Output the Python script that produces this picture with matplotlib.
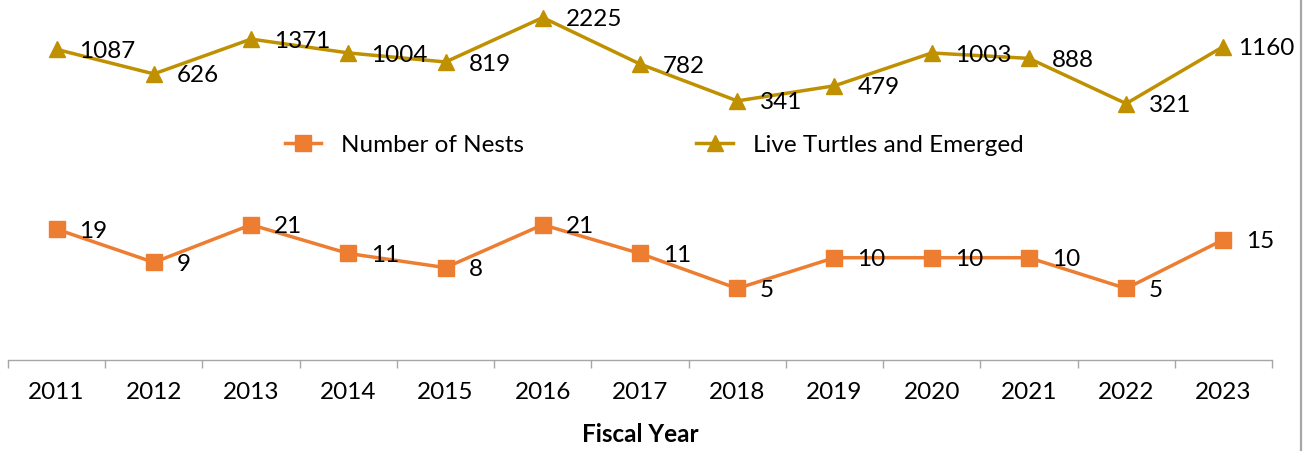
import matplotlib
matplotlib.use("Agg")
import matplotlib.pyplot as plt
from matplotlib.lines import Line2D
import numpy as np

years = ["2011", "2012", "2013", "2014", "2015", "2016", "2017",
         "2018", "2019", "2020", "2021", "2022", "2023"]
nests = [19, 9, 21, 11, 8, 21, 11, 5, 10, 10, 10, 5, 15]
turtles = [1087, 626, 1371, 1004, 819, 2225, 782, 341, 479, 1003, 888, 321, 1160]

NEST_COLOR = "#ED7D31"
TURTLE_COLOR = "#BF9000"
AXIS_GRAY = "#A6A6A6"
FONT = "Lato"

W, H, DPI = 1310, 451, 100
fig = plt.figure(figsize=(W / DPI, H / DPI), dpi=DPI)
plt.rcParams["font.family"] = [FONT, "DejaVu Sans"]

# plot area in pixels: x 8..1272, y 0..360 (from top)
left_px, right_px, top_px, bottom_px = 8, 1272, 0, 360
ax = fig.add_axes([left_px / W, 1 - bottom_px / H,
                   (right_px - left_px) / W, (bottom_px - top_px) / H])

x = np.arange(len(years))
ax.set_yscale("log")
ax.set_ylim(1, 10 ** (360 / 102.3))
ax.set_xlim(-0.5, len(years) - 0.5)

l1, = ax.plot(x, nests, color=NEST_COLOR, lw=2.5, marker="s", ms=11.5,
              mfc=NEST_COLOR, mec=NEST_COLOR, label="Number of Nests",
              clip_on=False, zorder=3)
l2, = ax.plot(x, turtles, color=TURTLE_COLOR, lw=2.5, marker="^", ms=12,
              mfc=TURTLE_COLOR, mec=TURTLE_COLOR,
              label="Live Turtles and Emerged", clip_on=False, zorder=3)

fs = 17.5
for series in (nests, turtles):
    for i, v in enumerate(series):
        dx = 16.5
        if series is turtles and i == len(series) - 1:
            dx = 10.5
        ax.annotate(str(v), (x[i], v), xytext=(dx, -1.5),
                    textcoords="offset points", ha="left", va="center",
                    fontsize=fs, color="black", family=FONT)

# axes styling: only the bottom category axis
for side in ("left", "right", "top"):
    ax.spines[side].set_visible(False)
ax.spines["bottom"].set_color(AXIS_GRAY)
ax.spines["bottom"].set_linewidth(1.0)
ax.set_yticks([])
ax.yaxis.set_minor_locator(matplotlib.ticker.NullLocator())
ax.set_xticks(x)
ax.set_xticklabels(years, fontsize=fs, family=FONT)
ax.tick_params(axis="x", which="major", length=0, pad=16)
ax.set_xticks(np.arange(-0.5, len(years)), minor=True)
ax.tick_params(axis="x", which="minor", length=6, width=1.0,
               color=AXIS_GRAY)

ax.set_xlabel("Fiscal Year", fontsize=fs, fontweight="bold", family=FONT,
              va="center")
ax.xaxis.set_label_coords(0.5, (bottom_px - 435) / (bottom_px - top_px))

ax.legend(handles=[l1, l2], loc="center", ncol=2, frameon=False,
          bbox_to_anchor=((654 - left_px) / (right_px - left_px),
                          (bottom_px - 145) / (bottom_px - top_px)),
          fontsize=fs, handlelength=1.52, handletextpad=0.8,
          columnspacing=7.1, borderaxespad=0)

# right-hand frame edge
fig.add_artist(Line2D([1300.5 / W, 1300.5 / W], [0, 1], color=AXIS_GRAY,
                      lw=1.6, transform=fig.transFigure))

fig.savefig("out.png", dpi=DPI)
